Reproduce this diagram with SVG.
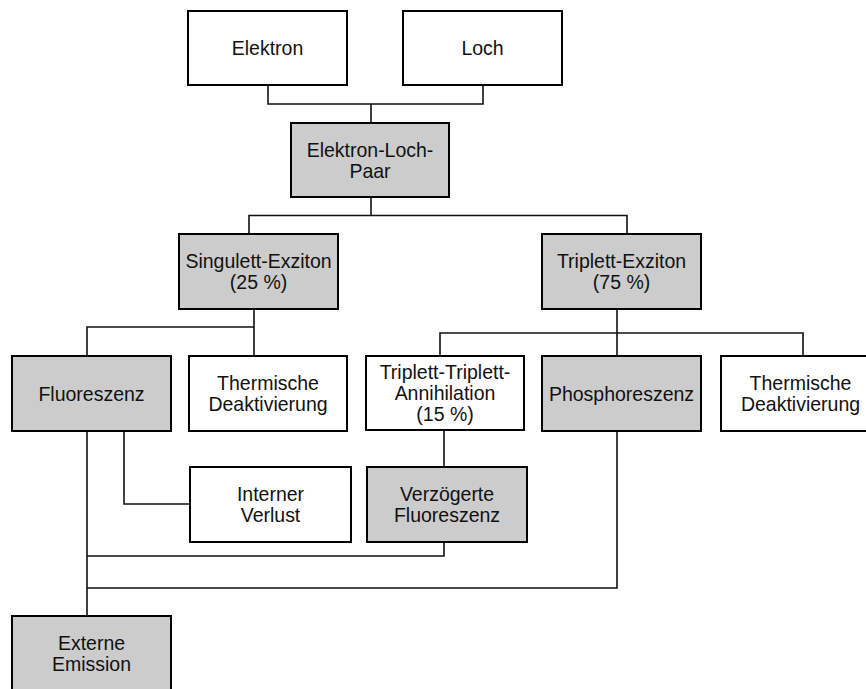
<svg xmlns="http://www.w3.org/2000/svg" width="866" height="689" viewBox="0 0 866 689">
<style>
.box{stroke:#000;stroke-width:2;}
.w{fill:#fff;}
.g{fill:#cccccc;}
.t{font-family:"Liberation Sans",Arial,sans-serif;font-size:19.5px;fill:#111;text-anchor:middle;}
.c{fill:none;stroke:#111;stroke-width:1.6;}
</style>
<rect width="866" height="689" fill="#fff"/>
<g id="connectors">
<path class="c" d="M268,85V104H483V85M371,104V123"/>
<path class="c" d="M371,197V215.5M249,234V215.5H627V234"/>
<path class="c" d="M254,309V356M87,356V327H254"/>
<path class="c" d="M617,309V356M440,356V333H803V356"/>
<path class="c" d="M87,431V616M124,431V504H190"/>
<path class="c" d="M444,430V467M444,542V556H87"/>
<path class="c" d="M617,431V588H87"/>
</g>
<g id="elektron">
<rect class="box w" x="188" y="11" width="159" height="74"/>
<text class="t" transform="translate(267.5,48) scale(1,1.06)"><tspan x="0" y="7">Elektron</tspan></text>
</g>
<g id="loch">
<rect class="box w" x="403" y="11" width="159" height="74"/>
<text class="t" transform="translate(482.5,48) scale(1,1.06)"><tspan x="0" y="7">Loch</tspan></text>
</g>
<g id="paar">
<rect class="box g" x="291" y="123" width="158" height="74"/>
<text class="t" transform="translate(370,160) scale(1,1.06)"><tspan x="0" y="-2.9">Elektron-Loch-</tspan><tspan x="0" y="16.9">Paar</tspan></text>
</g>
<g id="singulett">
<rect class="box g" x="179" y="234" width="159" height="75"/>
<text class="t" transform="translate(258.5,271.5) scale(1,1.06)"><tspan x="0" y="-2.9">Singulett-Exziton</tspan><tspan x="0" y="16.9">(25 %)</tspan></text>
</g>
<g id="triplett">
<rect class="box g" x="542" y="234" width="159" height="75"/>
<text class="t" transform="translate(621.5,271.5) scale(1,1.06)"><tspan x="0" y="-2.9">Triplett-Exziton</tspan><tspan x="0" y="16.9">(75 %)</tspan></text>
</g>
<g id="fluoreszenz">
<rect class="box g" x="12" y="356" width="159" height="75"/>
<text class="t" transform="translate(91.5,393.5) scale(1,1.06)"><tspan x="0" y="7">Fluoreszenz</tspan></text>
</g>
<g id="thermisch1">
<rect class="box w" x="189" y="356" width="158" height="75"/>
<text class="t" transform="translate(268,393.5) scale(1,1.06)"><tspan x="0" y="-2.9">Thermische</tspan><tspan x="0" y="16.9">Deaktivierung</tspan></text>
</g>
<g id="tta">
<rect class="box w" x="366" y="356" width="158" height="74"/>
<text class="t" transform="translate(445,393) scale(1,1.06)"><tspan x="0" y="-12.8">Triplett-Triplett-</tspan><tspan x="0" y="7">Annihilation</tspan><tspan x="0" y="26.8">(15 %)</tspan></text>
</g>
<g id="phosphoreszenz">
<rect class="box g" x="542" y="356" width="159" height="75"/>
<text class="t" transform="translate(621.5,393.5) scale(1,1.06)"><tspan x="0" y="7">Phosphoreszenz</tspan></text>
</g>
<g id="thermisch2">
<rect class="box w" x="721" y="356" width="159" height="75"/>
<text class="t" transform="translate(800.5,393.5) scale(1,1.06)"><tspan x="0" y="-2.9">Thermische</tspan><tspan x="0" y="16.9">Deaktivierung</tspan></text>
</g>
<g id="interner">
<rect class="box w" x="190" y="467" width="161" height="75"/>
<text class="t" transform="translate(270.5,504.5) scale(1,1.06)"><tspan x="0" y="-2.9">Interner</tspan><tspan x="0" y="16.9">Verlust</tspan></text>
</g>
<g id="verzoegert">
<rect class="box g" x="367" y="467" width="160" height="75"/>
<text class="t" transform="translate(447,504.5) scale(1,1.06)"><tspan x="0" y="-2.9">Verzögerte</tspan><tspan x="0" y="16.9">Fluoreszenz</tspan></text>
</g>
<g id="externe">
<rect class="box g" x="12" y="616" width="159" height="75"/>
<text class="t" transform="translate(91.5,653.5) scale(1,1.06)"><tspan x="0" y="-2.9">Externe</tspan><tspan x="0" y="16.9">Emission</tspan></text>
</g>
</svg>
